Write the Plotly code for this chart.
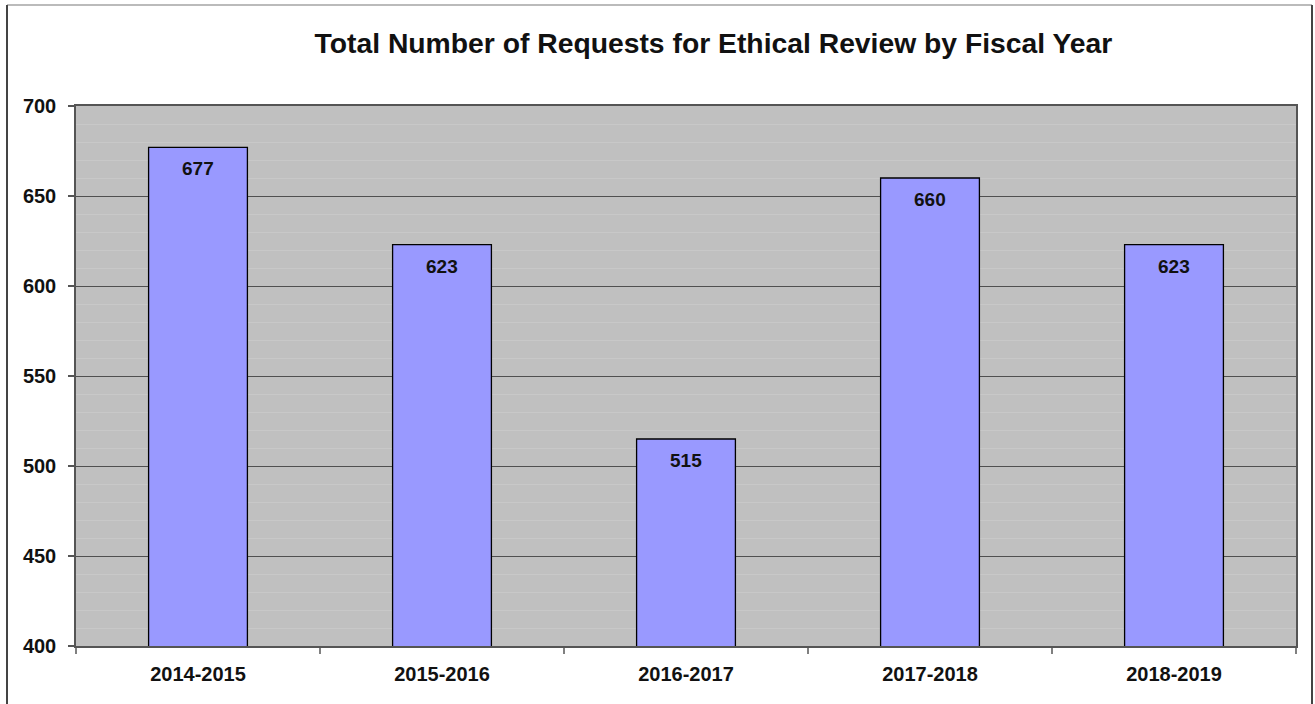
import plotly.graph_objects as go

# Requests for ethical review per fiscal year
fiscal_years = ["2014-2015", "2015-2016", "2016-2017", "2017-2018", "2018-2019"]
requests = [677, 623, 515, 660, 623]

y_range = [400, 700]
y_tick_step = 50
y_minor_step = 10

FONT = "Liberation Sans, Arial, sans-serif"

fig = go.Figure(
    go.Bar(
        x=fiscal_years,
        y=requests,
        width=0.405,
        marker=dict(color="#9999FF", line=dict(color="#000000", width=1.3)),
        hoverinfo="x+y",
    )
)

# Value labels just below each bar top
for year, value in zip(fiscal_years, requests):
    fig.add_annotation(
        x=year, y=value, xref="x", yref="y",
        text=f"<b>{value}</b>",
        showarrow=False,
        yanchor="top",
        yshift=-9,
        font=dict(family=FONT, size=19, color="#111111"),
    )

fig.update_layout(
    width=1315,
    height=704,
    margin=dict(l=76, r=19, t=106, b=58),
    paper_bgcolor="#FFFFFF",
    plot_bgcolor="#C0C0C0",
    showlegend=False,
    title=dict(
        text="<b>Total Number of Requests for Ethical Review by Fiscal Year</b>",
        x=0.5225,
        xref="paper",
        xanchor="center",
        y=1.0 - 43 / 704,
        yanchor="middle",
        font=dict(family=FONT, size=28.3, color="#111111"),
    ),
    font=dict(family=FONT, color="#111111"),
)

fig.update_xaxes(
    type="category",
    tickson="boundaries",
    ticks="outside",
    ticklen=6,
    tickcolor="#808080",
    tickwidth=1.5,
    ticklabelstandoff=9,
    showgrid=False,
    showline=True,
    linecolor="#555555",
    linewidth=1.5,
    mirror=True,
    tickfont=dict(family=FONT, size=20, color="#111111", weight="bold"),
    automargin=False,
)

fig.update_yaxes(
    range=y_range,
    dtick=y_tick_step,
    tick0=y_range[0],
    ticks="outside",
    ticklen=6,
    tickcolor="#555555",
    tickwidth=1.5,
    ticklabelstandoff=8,
    showgrid=True,
    gridcolor="#505050",
    gridwidth=1.3,
    minor=dict(dtick=y_minor_step, showgrid=True, gridcolor="#C8C8C8", gridwidth=1),
    showline=True,
    linecolor="#555555",
    linewidth=1.5,
    mirror=True,
    zeroline=False,
    tickfont=dict(family=FONT, size=20, color="#111111", weight="bold"),
    automargin=False,
)

# Outer chart frame
fig.add_shape(type="line", xref="paper", yref="paper",
              x0=(7 - 76) / 1220, x1=(1312 - 76) / 1220,
              y0=(646 - 5) / 540, y1=(646 - 5) / 540,
              line=dict(color="#BBBBBB", width=2), layer="below")
fig.add_shape(type="line", xref="paper", yref="paper",
              x0=(7 - 76) / 1220, x1=(7 - 76) / 1220,
              y0=(646 - 5) / 540, y1=-0.2,
              line=dict(color="#444444", width=2), layer="below")
fig.add_shape(type="line", xref="paper", yref="paper",
              x0=(1312 - 76) / 1220, x1=(1312 - 76) / 1220,
              y0=(646 - 5) / 540, y1=-0.2,
              line=dict(color="#444444", width=2), layer="below")

fig.write_html("out.html")
